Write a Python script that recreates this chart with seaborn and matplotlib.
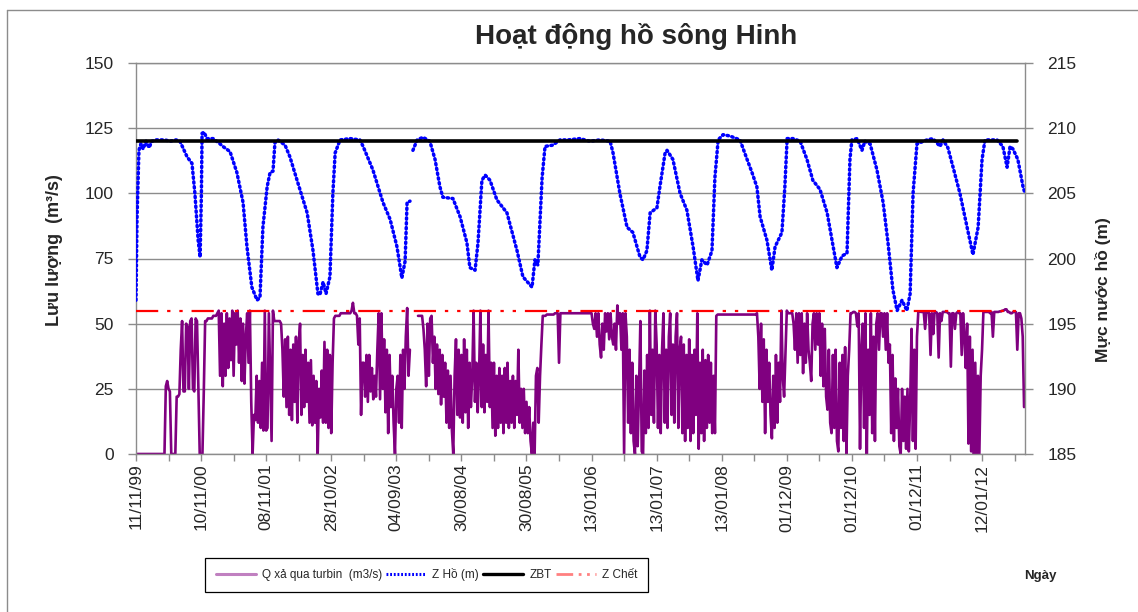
import numpy as np
import pandas as pd
import matplotlib
matplotlib.use("Agg")
import matplotlib.pyplot as plt
import seaborn as sns
from matplotlib.lines import Line2D

nan = np.nan

# ---------------- data ----------------
date_labels = ['11/11/99', '10/11/00', '08/11/01', '28/10/02', '04/09/03',
               '30/08/04', '30/08/05', '13/01/06', '13/01/07', '13/01/08',
               '01/12/09', '01/12/10', '01/12/11', '12/01/12']
n_ticks = 28            # category tick marks (every other one labelled)
samples_per_tick = 24   # Q samples read per tick interval

# Q xả qua turbin (m3/s), read along the category axis (one row per tick interval)
q_turbin = [
    0, 0, 0, 0, 0, 0, 0, 0, 0, 0, 0, 0, 0, 0, 0, 0, 0, 0, 0, 0, 0, 0, 26, 28,
    25, 24, 0, 0, 0, 0, 22, 22, 23, 40, 51, 24, 24, 50, 49, 25, 51, 52, 25, 24, 52, 51, 26, 0,
    0, 0, 24, 51, 51, 52, 52, 52, 52, 53, 53, 53, 54, 55, 30, 54, 26, 50, 30, 54, 33, 52, 36, 55,
    30, 54, 42, 55, 35, 52, 28, 50, 27, 45, 54, 35, 55, 20, 0, 15, 13, 30, 12, 28, 10, 35, 9, 55,
    9, 10, 54, 30, 5, 55, 51, 51, 51, 51, 51, 50, 40, 22, 44, 18, 45, 15, 40, 13, 42, 20, 45, 12,
    42, 50, 15, 38, 18, 40, 20, 35, 12, 36, 11, 30, 12, 28, 0, 25, 14, 32, 12, 43, 12, 40, 10, 38,
    8, 35, 52, 53, 53, 53, 53, 54, 54, 54, 54, 54, 54, 54, 54, 55, 58, 54, 54, 53, 42, 52, 15, 35,
    35, 22, 38, 20, 38, 24, 33, 21, 30, 22, 40, 54, 21, 54, 25, 44, 16, 40, 8, 38, 18, 30, 12, 0,
    25, 30, 12, 38, 10, 40, 25, 45, 56, 30, 40, nan, nan, nan, nan, nan, 53, 53, 53, 53, 48, 40, 26, 50,
    30, 52, 53, 35, 45, 25, 42, 23, 40, 19, 38, 22, 35, 12, 32, 10, 30, 9, 0, 30, 44, 15, 40, 14,
    38, 12, 44, 16, 40, 10, 35, 18, 30, 55, 20, 35, 16, 30, 55, 18, 42, 16, 38, 20, 55, 18, 35, 10,
    35, 7, 30, 10, 33, 12, 30, 8, 33, 12, 35, 10, 28, 12, 30, 10, 28, 15, 40, 12, 25, 10, 25, 8,
    20, 8, 18, 5, 0, 12, 0, 30, 33, 12, 30, 42, 53, 53, 53, 53.5, 53.5, 53.5, 53.5, 53.5, 53.5, 54, 54, 54,
    35, 54, 54, 54, 54, 54, 54, 54, 54, 54, 54, 54, 54, 54, 54, 54, 54, 54, 54, 54, 54, 54, 54, 54,
    54, 50, 48, 54, 45, 54, 42, 37, 50, 40, 54, 47, 54, 44, 54, 45, 42, 50, 40, 57, 50, 54, 40, 54,
    0, 54, 45, 12, 40, 8, 35, 5, 0, 30, 3, 25, 51, 1, 0, 32, 8, 38, 10, 55, 15, 40, 12, 55,
    42, 10, 38, 8, 40, 54, 12, 40, 10, 45, 54, 15, 42, 12, 45, 54, 10, 40, 45, 8, 42, 5, 38, 10,
    44, 5, 38, 8, 40, 15, 54, 2, 35, 8, 40, 5, 36, 10, 38, 12, 35, 8, 30, 8, 53, 53.5, 53.5, 53.5,
    53.5, 53.5, 53.5, 53.5, 53.5, 53.5, 53.5, 53.5, 53.5, 53.5, 53.5, 53.5,
    53.5, 53.5, 53.5, 53.5, 53.5, 53.5, 53.5, 53.5, 53.5, 53.5, 53.5, 53.5,
    53.5, 53.5, 54, 45, 25, 50, 20, 44, 8, 40, 20, 35, 15, 6, 30, 10, 38, 12, 35, 20, 55, 30, 22, 38,
    55, 54, 54, 54, 54, 50, 40, 54, 35, 54, 38, 54, 31, 50, 35, 54, 40, 35, 28, 50, 54, 40, 54, 42,
    54, 30, 50, 26, 48, 22, 17, 40, 12, 8, 38, 10, 40, 5, 1, 35, 10, 38, 5, 41, 0, 30, 40, 54,
    54, 54.5, 54.5, 54, 49, 54, 2, 40, 50, 10, 54, 0, 40, 15, 54, 8, 45, 5, 50, 54, 40, 54, 54, 45,
    54, 40, 54, 35, 42, 8, 38, 5, 29, 10, 25, 3, 0, 25, 5, 22, 2, 25, 1, 20, 48, 5, 40, 2,
    45, 54.7, 54.7, 54.5, 54.5, 54.5, 48, 54.5, 54.5, 54, 38, 54, 46, 54.5, 54.5, 54, 37, 54, 51, 54.5, 54.5, 54.5, 54.5, 54,
    54, 33.5, 54, 54, 48, 54, 54.5, 54, 54, 38, 54, 45, 33, 50, 4, 45, 1, 40, 0, 35, 0, 30, 0, 30,
    40, 54.5, 54.5, 54.5, 54.5, 54.5, 54, 54.5, 45, 54.5, 54.5, 54.5, 54.5, 54.7, 54.7, 55, 55, 55.5, 55.5, 54.5, 54.5, 54, 54, 54.5,
    54.5, 54.5, 40, 54, 54, 52, 45, 18,
]

# Z Hồ (m): positions along the category axis (tick units) and levels
z_pos = [0.00, 0.03, 0.09, 0.15, 0.22, 0.31, 0.40, 0.49, 0.61, 0.89, 1.04, 1.23,
         1.35, 1.57, 1.72, 1.81, 1.91, 1.97, 2.01, 2.03, 2.09, 2.18, 2.37, 2.58,
         2.67, 2.89, 3.10, 3.29, 3.41, 3.56, 3.72, 3.81, 3.90, 4.03, 4.12, 4.21,
         4.27, 4.36, 4.58, 4.73, 4.95, 5.26, 5.44, 5.59, 5.65, 5.75, 5.84, 5.96,
         6.05, 6.12, 6.27, 6.58, 6.88, 6.98, 7.28, 7.59, 7.81, 8.02, 8.17, 8.27,
         8.33, 8.42, 8.47, 8.51, 8.64, 8.82, 9.03, 9.19, 9.34, 9.43, 9.74, 9.96,
         10.17, 10.26, 10.42, 10.51, 10.63, 10.73, 10.88, 11.09, 11.40, 11.71,
         11.89, 12.17, 12.26, 12.35, 12.48, 12.57, 12.81, 13.03, 13.28, 13.64,
         13.95, 14.26, 14.57, 14.66, 14.87, 15.09, 15.27, 15.49, 15.58, 15.70,
         15.80, 16.01, 16.10, 16.26, 16.32, 16.50, 16.72, 16.93, 17.12, 17.27,
         17.39, 17.55, 17.70, 17.79, 17.89, 18.04, 18.25, 18.56, 18.78, 18.93,
         19.08, 19.18, 19.39, 19.54, 19.64, 19.85, 19.94, 20.01, 20.19, 20.41,
         20.62, 20.80, 21.02, 21.24, 21.39, 21.54, 21.70, 21.85, 21.94, 22.00,
         22.16, 22.31, 22.40, 22.56, 22.77, 22.96, 23.11, 23.26, 23.39, 23.54,
         23.69, 23.79, 23.88, 24.00, 24.31, 24.49, 24.71, 24.80, 24.95, 25.11,
         25.32, 25.54, 25.72, 25.88, 26.00, 26.09, 26.46, 26.64, 26.77, 26.86,
         26.95, 27.10, 27.26, 27.32]
z_ho = [196.8, 203.0, 208.3, 208.8, 208.4, 209.0, 208.5, 209.0, 209.1, 209.1, 209.0, 209.1,
        209.0, 207.8, 207.3, 205.0, 201.4, 200.1, 205.0, 209.6, 209.7, 209.2, 209.2, 208.8,
        208.6, 208.2, 206.6, 204.3, 200.9, 197.8, 196.8, 197.0, 202.4, 205.5, 206.6, 206.7,
        208.9, 209.1, 208.7, 207.8, 206.0, 203.5, 200.6, 197.3, 197.2, 198.2, 197.3, 198.6,
        205.0, 208.1, 209.1, 209.2, 209.1, 208.6, 206.8, 204.3, 203.0, 200.9, 198.5, 199.8,
        204.3, 204.4, nan, 208.3, 209.1, 209.3, 209.0, 207.6, 205.5, 204.7, 204.6, 203.2,
        201.2, 199.3, 199.1, 201.2, 206.0, 206.4, 206.0, 204.5, 203.5, 200.6,
        198.6, 197.8, 199.9, 199.5, 206.2, 208.6, 208.7, 209.1, 209.1, 209.2,
        209.0, 209.1, 209.0, 208.1, 205.0, 202.4, 202.0, 200.1, 199.9, 200.6,
        203.5, 203.9, 205.5, 208.1, 208.3, 207.6, 205.0, 203.7, 200.9, 198.3,
        199.9, 199.5, 200.6, 206.2, 209.1, 209.5, 209.4, 209.1, 207.6, 206.6,
        205.5, 203.2, 201.4, 199.1, 200.9, 202.0, 205.5, 209.2, 209.2, 209.0,
        207.6, 206.0, 205.3, 203.5, 201.4, 199.3, 200.2, 200.4, 207.6, 209.1,
        209.2, 208.3, 209.0, 208.8, 206.8, 204.3, 201.2, 197.6, 196.0, 196.8,
        196.0, 197.3, 205.0, 208.8, 209.1, 209.2, 208.6, 209.1, 208.5, 207.0,
        205.0, 202.4, 200.3, 202.4, 207.6, 209.1, 209.1, 208.6, 207.0, 208.6,
        208.4, 207.6, 205.5, 205.0]

zbt_level = 209.0     # mực nước dâng bình thường
zchet_level = 196.0   # mực nước chết

# ---------------- style ----------------
sns.set_theme(style="white")
plt.rcParams['font.family'] = ['Liberation Sans', 'DejaVu Sans']

W, H = 1138, 612
fig = plt.figure(figsize=(W / 100, H / 100), dpi=100)
fig.patch.set_facecolor('white')
ax = fig.add_axes([136 / W, 1 - 454 / H, (1025 - 136) / W, (454 - 63) / H])
ax.set_facecolor('white')

# Q series (segments split at missing data)
q_df = pd.DataFrame({'x': np.arange(len(q_turbin)) / samples_per_tick, 'q': q_turbin})
q_df['seg'] = q_df['q'].isna().cumsum()
q_df = q_df.dropna()
sns.lineplot(data=q_df, x='x', y='q', units='seg', estimator=None, sort=False,
             color='#800080', lw=1.9, ax=ax, legend=False)

ax.set_xlim(0, 27.32)
ax.set_ylim(0, 150)
ax.set_yticks(np.arange(0, 151, 25))
ax.yaxis.grid(True, color='#8c8c8c', lw=1)
ax.xaxis.grid(False)
for s in ax.spines.values():
    s.set_color('#8c8c8c')
    s.set_linewidth(1)
ax.set_xticks(np.arange(n_ticks))
ax.set_xticklabels([date_labels[i // 2] if i % 2 == 0 else '' for i in range(n_ticks)],
                   rotation=90)
ax.tick_params(axis='x', direction='out', length=5, width=1, color='#8c8c8c',
               labelsize=12.5, pad=2, bottom=True)
ax.tick_params(axis='y', direction='out', length=6, width=1, color='#8c8c8c',
               labelsize=12.5, pad=10, left=True)
ax.set_xlabel('')
ax.set_ylabel('')

# Z series on right axis
ax2 = ax.twinx()
z_df = pd.DataFrame({'x': z_pos, 'z': z_ho})
z_df['seg'] = z_df['z'].isna().cumsum()
z_df = z_df.dropna()
sns.lineplot(data=z_df, x='x', y='z', units='seg', estimator=None, sort=False,
             color='#0000ff', lw=2.5, ax=ax2, legend=False,
             linestyle=(0, (0.4, 1.0)), dash_capstyle='round')

x_first = q_df['x'].min()
x_last = 27.07
level_df = pd.DataFrame({'x': [x_first, x_last], 'zbt': [zbt_level] * 2,
                         'zchet': [zchet_level] * 2})
sns.lineplot(data=level_df, x='x', y='zchet', color='#ff0000', lw=1.6, ax=ax2,
             linestyle=(0, (10, 4, 1.5, 4, 1.5, 4)), legend=False)
sns.lineplot(data=level_df, x='x', y='zbt', color='black', lw=2.6, ax=ax2, legend=False)

ax2.set_ylim(185, 215)
ax2.set_yticks(np.arange(185, 216, 5))
ax2.set_xlim(0, 27.32)
ax2.grid(False)
for s in ax2.spines.values():
    s.set_visible(False)
ax2.tick_params(axis='y', direction='out', length=6, width=1, color='#8c8c8c',
                labelsize=12.5, pad=10, right=True)
ax2.set_ylabel('')
ax2.set_xlabel('')

# texts
fig.text(636 / W, 1 - 37 / H, 'Hoạt động hồ sông Hinh', ha='center', va='center',
         fontsize=20, fontweight='bold')
fig.text(55 / W, 1 - 250 / H, 'Lưu lượng  (m³/s)', ha='center', va='center',
         rotation=90, fontsize=13, fontweight='bold')
fig.text(1103 / W, 1 - 290 / H, 'Mực nước hồ (m)', ha='center', va='center',
         rotation=90, fontsize=12.5, fontweight='bold')
fig.text(1040 / W, 1 - 576 / H, 'Ngày', ha='center', va='center',
         fontsize=9.5, fontweight='bold')

# legend
handles = [Line2D([], [], color='#c080c0', lw=2.2),
           Line2D([], [], color='#0000ff', lw=2.2, linestyle=(0, (0.6, 0.6))),
           Line2D([], [], color='black', lw=2.4),
           Line2D([], [], color='#ff8080', lw=2.0, linestyle=(0, (6, 2, 1, 2, 1, 2)))]
labels = ['Q xả qua turbin  (m3/s)', 'Z Hồ (m)', 'ZBT', 'Z Chết']
leg = fig.legend(handles, labels, loc='lower left',
                 bbox_to_anchor=(205 / W, 1 - 592 / H, (648 - 205) / W, 36 / H),
                 mode='expand', ncol=4, fontsize=8.5, frameon=True, fancybox=False,
                 edgecolor='black', handlelength=3.4, handletextpad=0.5,
                 borderaxespad=0, borderpad=0.9)
leg.get_frame().set_linewidth(0.9)
leg.get_frame().set_alpha(1)

# outer chart border
fig.add_artist(Line2D([7 / W, 7 / W], [0, 1 - 10 / H], transform=fig.transFigure,
                      color='#8c8c8c', lw=1))
fig.add_artist(Line2D([7 / W, 1], [1 - 10 / H, 1 - 10 / H], transform=fig.transFigure,
                      color='#8c8c8c', lw=1))

fig.savefig('out.png', dpi=100)
